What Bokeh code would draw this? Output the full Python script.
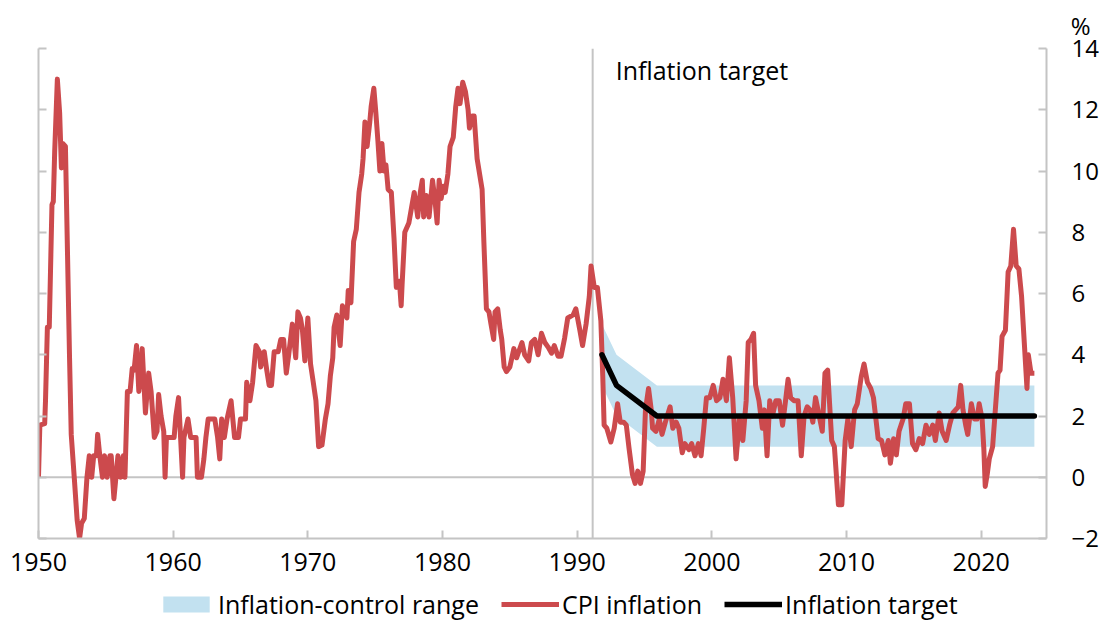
from bokeh.plotting import figure
from bokeh.models import (Range1d, LinearAxis, Span, Label, Legend, LegendItem,
                          FixedTicker, ColumnDataSource, Title)
from bokeh.layouts import column
from bokeh.embed import file_html
from bokeh.resources import INLINE

# ---------------- data ----------------
cpi_year = [
    1950.00, 1950.10, 1950.46, 1950.52, 1950.66, 1950.80, 1951.00, 1951.10, 1951.20, 1951.40,
    1951.57, 1951.70, 1951.80, 1952.00, 1952.30, 1952.43, 1952.67, 1952.87, 1953.05, 1953.20,
    1953.40, 1953.60, 1953.77, 1953.95, 1954.10, 1954.30, 1954.39, 1954.55, 1954.75, 1954.90,
    1955.10, 1955.30, 1955.40, 1955.60, 1955.75, 1955.90, 1956.10, 1956.30, 1956.42, 1956.60,
    1956.80, 1956.96, 1957.10, 1957.28, 1957.45, 1957.55, 1957.70, 1957.94, 1958.18, 1958.36,
    1958.60, 1958.80, 1958.92, 1959.10, 1959.30, 1959.40, 1959.50, 1960.07, 1960.20, 1960.40,
    1960.55, 1960.70, 1960.80, 1961.10, 1961.30, 1961.70, 1961.80, 1962.10, 1962.28, 1962.43,
    1962.60, 1963.09, 1963.30, 1963.46, 1963.60, 1963.80, 1964.00, 1964.30, 1964.56, 1964.85,
    1965.00, 1965.37, 1965.46, 1965.70, 1965.90, 1966.15, 1966.40, 1966.50, 1966.76, 1966.95,
    1967.13, 1967.30, 1967.50, 1967.80, 1967.99, 1968.20, 1968.40, 1968.55, 1968.85, 1969.10,
    1969.26, 1969.45, 1969.60, 1969.78, 1970.00, 1970.20, 1970.37, 1970.60, 1970.80, 1971.05,
    1971.30, 1971.50, 1971.67, 1971.85, 1971.95, 1972.15, 1972.40, 1972.57, 1972.90, 1973.00,
    1973.20, 1973.40, 1973.60, 1973.80, 1974.00, 1974.10, 1974.24, 1974.40, 1974.60, 1974.70,
    1974.90, 1975.05, 1975.20, 1975.35, 1975.50, 1975.66, 1975.80, 1975.96, 1976.20, 1976.40,
    1976.57, 1976.80, 1976.93, 1977.00, 1977.20, 1977.50, 1977.70, 1977.90, 1978.16, 1978.35,
    1978.50, 1978.60, 1978.80, 1979.00, 1979.26, 1979.45, 1979.60, 1979.75, 1979.90, 1980.05,
    1980.20, 1980.40, 1980.56, 1980.80, 1980.98, 1981.15, 1981.30, 1981.50, 1981.70, 1981.90,
    1982.00, 1982.20, 1982.35, 1982.57, 1982.94, 1983.07, 1983.26, 1983.45, 1983.60, 1983.80,
    1983.90, 1984.10, 1984.29, 1984.40, 1984.58, 1984.75, 1985.00, 1985.30, 1985.50, 1985.90,
    1986.10, 1986.40, 1986.60, 1986.85, 1987.10, 1987.35, 1987.60, 1987.84, 1988.10, 1988.30,
    1988.58, 1988.80, 1989.07, 1989.30, 1989.70, 1989.90, 1990.20, 1990.40, 1990.66, 1990.90,
    1991.03, 1991.27, 1991.50, 1991.76, 1991.90, 1992.00, 1992.20, 1992.50, 1992.75, 1993.00,
    1993.20, 1993.45, 1993.65, 1993.85, 1994.10, 1994.30, 1994.50, 1994.70, 1994.90, 1995.07,
    1995.30, 1995.50, 1995.60, 1995.85, 1996.10, 1996.30, 1996.55, 1996.90, 1997.10, 1997.35,
    1997.55, 1997.80, 1998.00, 1998.30, 1998.50, 1998.75, 1999.00, 1999.20, 1999.40, 1999.60,
    1999.85, 2000.10, 2000.35, 2000.60, 2000.83, 2001.08, 2001.30, 2001.55, 2001.80, 2002.05,
    2002.30, 2002.55, 2002.70, 2002.90, 2003.10, 2003.25, 2003.50, 2003.75, 2003.90, 2004.10,
    2004.30, 2004.50, 2004.75, 2005.00, 2005.25, 2005.50, 2005.66, 2005.85, 2006.10, 2006.40,
    2006.64, 2006.85, 2007.08, 2007.30, 2007.50, 2007.70, 2008.20, 2008.40, 2008.60, 2008.90,
    2009.10, 2009.40, 2009.65, 2009.90, 2010.10, 2010.35, 2010.60, 2010.80, 2011.10, 2011.30,
    2011.55, 2011.80, 2012.00, 2012.35, 2012.60, 2012.85, 2013.10, 2013.26, 2013.50, 2013.70,
    2013.90, 2014.20, 2014.40, 2014.67, 2014.90, 2015.15, 2015.40, 2015.65, 2015.90, 2016.15,
    2016.40, 2016.60, 2016.88, 2017.10, 2017.40, 2017.65, 2017.90, 2018.10, 2018.30, 2018.48,
    2018.65, 2018.85, 2019.00, 2019.27, 2019.50, 2019.70, 2019.85, 2020.07, 2020.20, 2020.30,
    2020.45, 2020.60, 2020.85, 2021.05, 2021.25, 2021.40, 2021.55, 2021.80, 2022.00, 2022.20,
    2022.40, 2022.60, 2022.80, 2023.00, 2023.20, 2023.40, 2023.50, 2023.70, 2023.95,
]
cpi_value = [
    0.0, 1.7, 1.75, 2.5, 4.9, 4.9, 8.9, 9.0, 10.6, 13.0,
    11.9, 10.1, 10.9, 10.8, 4.0, 1.4, -0.1, -1.4, -2.0, -1.5,
    -1.35, 0.0, 0.7, 0.0, 0.7, 0.7, 1.4, 0.7, 0.0, 0.7,
    0.0, 0.7, 0.7, -0.7, 0.0, 0.7, 0.0, 0.7, 0.0, 2.8,
    2.8, 3.55, 3.5, 4.3, 2.8, 3.2, 4.2, 2.1, 3.4, 2.8,
    1.3, 1.5, 2.7, 2.0, 1.5, 0.0, 1.3, 1.3, 2.0, 2.6,
    1.3, 0.0, 1.3, 1.9, 1.3, 1.3, 0.0, 0.0, 0.6, 1.3,
    1.9, 1.9, 1.3, 0.6, 1.9, 1.3, 1.9, 2.5, 1.3, 1.3,
    1.9, 1.9, 3.1, 2.5, 3.1, 4.3, 4.1, 3.6, 4.1, 3.5,
    3.0, 3.0, 4.1, 4.1, 4.5, 4.5, 3.4, 3.9, 5.0, 3.9,
    5.4, 5.2, 4.8, 3.8, 5.2, 3.7, 3.2, 2.5, 1.0, 1.05,
    1.9, 2.4, 3.3, 3.9, 4.9, 5.3, 4.3, 5.6, 5.2, 6.1,
    5.7, 7.7, 8.1, 9.3, 9.9, 10.4, 11.6, 10.8, 11.6, 12.1,
    12.7, 11.9, 11.0, 10.0, 10.9, 10.0, 10.2, 9.4, 9.3, 7.8,
    6.2, 6.4, 5.6, 6.3, 8.0, 8.3, 8.8, 9.3, 8.5, 9.3,
    9.7, 8.5, 9.2, 8.5, 9.7, 9.0, 8.3, 9.7, 9.1, 9.5,
    9.3, 9.9, 10.8, 11.1, 12.1, 12.7, 12.2, 12.9, 12.6, 12.0,
    11.4, 11.8, 11.8, 10.4, 9.4, 7.7, 5.5, 5.4, 5.0, 4.5,
    5.4, 5.5, 4.8, 4.5, 3.6, 3.45, 3.6, 4.2, 3.9, 4.4,
    4.0, 3.8, 4.4, 4.5, 4.0, 4.7, 4.4, 4.25, 4.05, 4.3,
    3.95, 3.95, 4.55, 5.2, 5.3, 5.5, 4.8, 4.3, 5.0, 5.9,
    6.9, 6.2, 6.2, 5.1, 3.3, 1.7, 1.6, 1.15, 1.6, 2.4,
    1.8, 1.8, 1.7, 0.95, 0.1, -0.2, 0.2, -0.2, 0.2, 2.2,
    2.9, 2.2, 1.6, 1.5, 1.9, 1.4, 1.8, 2.3, 1.6, 1.8,
    1.6, 0.8, 1.1, 0.9, 1.1, 0.7, 1.1, 0.7, 1.6, 2.6,
    2.6, 3.0, 2.5, 2.6, 3.2, 2.5, 3.9, 2.6, 0.6, 1.9,
    1.2, 2.5, 4.4, 4.5, 4.7, 3.0, 2.5, 1.6, 2.2, 0.7,
    2.5, 2.0, 2.5, 2.5, 1.7, 2.6, 3.2, 2.6, 2.5, 2.5,
    0.7, 2.0, 2.3, 2.2, 1.8, 2.6, 1.5, 3.4, 3.5, 1.2,
    1.0, -0.9, -0.9, 1.2, 1.9, 1.0, 2.2, 2.4, 3.3, 3.7,
    3.1, 2.9, 2.6, 1.26, 1.2, 0.73, 1.2, 0.46, 1.26, 0.73,
    1.5, 1.9, 2.4, 2.4, 1.1, 0.9, 1.26, 1.1, 1.7, 1.4,
    1.7, 1.2, 2.1, 1.5, 1.2, 1.7, 2.1, 2.2, 2.3, 3.0,
    2.2, 1.7, 1.4, 2.4, 1.9, 1.9, 2.4, 1.9, 0.9, -0.3,
    0.1, 0.6, 1.0, 2.2, 3.4, 3.5, 4.6, 4.8, 6.7, 6.9,
    8.1, 6.9, 6.8, 5.9, 4.4, 2.9, 4.0, 3.4, 3.4,
]

target_year = [1991.84, 1992.92, 1995.92, 2023.95]
target_value = [4.0, 3.0, 2.0, 2.0]
range_low = [3.0, 2.0, 1.0, 1.0]
range_high = [5.0, 4.0, 3.0, 3.0]

target_start_year = 1991.15
y_ticks = [-2, 0, 2, 4, 6, 8, 10, 12, 14]
x_ticks = [1950, 1960, 1970, 1980, 1990, 2000, 2010, 2020]

legend_labels = ["Inflation-control range", "CPI inflation", "Inflation target"]
annotation_text = "Inflation target"
unit_text = "%"

# ---------------- styles ----------------
FONT = "Open Sans"
FS = "24px"
GRAY = "#c4c4c4"
RED = "#cc4a4d"
BLUE = "#c2e1f0"
TXT = "#000000"

tsrc = ColumnDataSource(dict(x=target_year, t=target_value, lo=range_low, hi=range_high))
csrc = ColumnDataSource(dict(x=cpi_year, y=cpi_value))

p = figure(width=1101, height=586, output_backend="svg", toolbar_location=None,
           x_range=Range1d(1950, 2024.85), y_range=Range1d(-2, 14),
           min_border_left=38, min_border_right=52, min_border_top=48,
           min_border_bottom=48)
p.outline_line_color = None
p.xgrid.visible = False
p.ygrid.visible = False
p.background_fill_color = "white"
p.border_fill_color = "white"

# "%" unit label above the right axis
p.add_layout(Title(text=unit_text, align="right", offset=-44, standoff=13,
                   text_font=FONT, text_font_size=FS, text_font_style="normal",
                   text_color=TXT), "above")

# bottom axis
xa = p.xaxis[0]
xa.ticker = FixedTicker(ticks=x_ticks)
xa.major_tick_in = 8
xa.major_tick_out = 0
xa.minor_tick_line_color = None
xa.axis_line_color = GRAY
xa.axis_line_width = 2
xa.major_tick_line_color = GRAY
xa.major_tick_line_width = 2
xa.major_label_text_font = FONT
xa.major_label_text_font_size = "25px"
xa.major_label_text_color = TXT
xa.major_label_standoff = 14

# left axis (no labels)
ya = p.yaxis[0]
ya.ticker = FixedTicker(ticks=y_ticks)
ya.major_tick_in = 8
ya.major_tick_out = 0
ya.minor_tick_line_color = None
ya.axis_line_color = GRAY
ya.axis_line_width = 2
ya.major_tick_line_color = GRAY
ya.major_tick_line_width = 2
ya.major_label_text_color = None
ya.major_label_standoff = 0

# right axis
ra = LinearAxis(ticker=FixedTicker(ticks=y_ticks))
ra.major_tick_in = 8
ra.major_tick_out = 0
ra.minor_tick_line_color = None
ra.axis_line_color = GRAY
ra.axis_line_width = 2
ra.major_tick_line_color = GRAY
ra.major_tick_line_width = 2
ra.major_label_text_font = FONT
ra.major_label_text_font_size = FS
ra.major_label_text_color = TXT
ra.major_label_standoff = 25
p.add_layout(ra, "right")

# reference lines
p.add_layout(Span(location=0, dimension="width", line_color=GRAY, line_width=2, level="underlay"))
p.add_layout(Span(location=target_start_year, dimension="height", line_color=GRAY,
                  line_width=2, level="underlay"))

p.varea(x="x", y1="lo", y2="hi", source=tsrc, fill_color=BLUE, fill_alpha=1.0)
p.line(x="x", y="y", source=csrc, line_color=RED, line_width=5, line_join="round")
p.line(x="x", y="t", source=tsrc, line_color="black", line_width=5.5, line_join="round",
       line_cap="round")

p.add_layout(Label(x=target_start_year, y=13.3, x_offset=23, text=annotation_text,
                   text_font=FONT, text_font_size="25px", text_color=TXT,
                   text_baseline="middle", text_align="left"))

# ---------------- legend strip (same series, drawn outside its view) ----------------
lg = figure(width=1101, height=35, output_backend="svg", toolbar_location=None,
            x_range=Range1d(0, 1), y_range=Range1d(100, 101),
            x_axis_location=None, y_axis_location=None,
            min_border_left=0, min_border_right=0, min_border_top=0, min_border_bottom=0)
lg.outline_line_color = None
lg.xgrid.visible = False
lg.ygrid.visible = False
lg.background_fill_color = "white"
lg.border_fill_color = "white"

band = lg.varea(x="x", y1="lo", y2="hi", source=tsrc, fill_color=BLUE, fill_alpha=1.0)
cpi = lg.line(x="x", y="y", source=csrc, line_color=RED, line_width=5)
tgt = lg.line(x="x", y="t", source=tsrc, line_color="black", line_width=5.5)

legend = Legend(items=[LegendItem(label=legend_labels[0], renderers=[band]),
                       LegendItem(label=legend_labels[1], renderers=[cpi]),
                       LegendItem(label=legend_labels[2], renderers=[tgt])],
                orientation="horizontal", location=(119, 0),
                label_text_font=FONT, label_text_font_size="25px", label_text_color=TXT,
                glyph_width=58, glyph_height=20, label_standoff=3, spacing=22,
                padding=0, margin=0, border_line_color=None, background_fill_alpha=0)
lg.add_layout(legend, "center")

open("out.html", "w").write(file_html(column(p, lg, spacing=0), INLINE))
